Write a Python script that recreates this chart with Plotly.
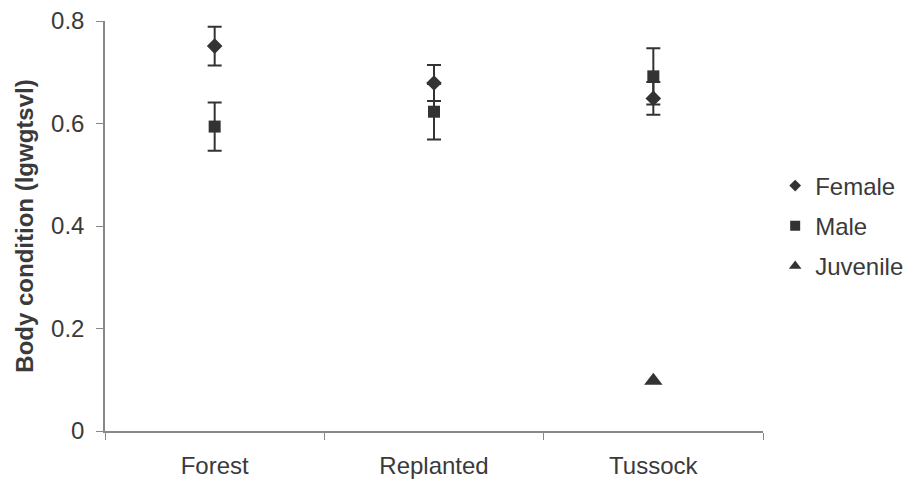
import plotly.graph_objects as go

categories = ["Forest", "Replanted", "Tussock"]
female = [0.751, 0.679, 0.649]
female_err = [0.038, 0.035, 0.032]
male = [0.594, 0.623, 0.692]
male_err = [0.047, 0.054, 0.055]
juv_cat = ["Tussock"]
juvenile = [0.098]
y_ticks = [0, 0.2, 0.4, 0.6, 0.8]
y_ticktext = ["0", "0.2", "0.4", "0.6", "0.8"]
series_names = ["Female", "Male", "Juvenile"]

mark = "#333333"
txt = "#3a3a3a"
font = "Liberation Sans, Arial, sans-serif"

fig = go.Figure()
fig.add_trace(go.Scatter(
    x=categories, y=female, mode="markers", name=series_names[0], showlegend=False,
    marker=dict(symbol="diamond", size=12, color=mark),
    error_y=dict(type="data", array=female_err, visible=True, color=mark, thickness=2, width=7)))
fig.add_trace(go.Scatter(
    x=categories, y=male, mode="markers", name=series_names[1], showlegend=False,
    marker=dict(symbol="square", size=12, color=mark),
    error_y=dict(type="data", array=male_err, visible=True, color=mark, thickness=2, width=7)))
fig.add_trace(go.Scatter(
    x=juv_cat, y=juvenile, mode="markers", name=series_names[2], showlegend=False,
    marker=dict(symbol="triangle-up", size=16, color=mark)))

# legend entries (smaller symbols, as in the reference legend)
for nm, sym, sz, grp in zip(series_names, ["diamond", "square", "triangle-up"], [9, 10, 11], ["f", "m", "j"]):
    fig.add_trace(go.Scatter(x=[None], y=[None], mode="markers", name=nm, legendgroup=grp,
                             marker=dict(symbol=sym, size=sz, color=mark), showlegend=True))

fig.update_layout(
    width=906, height=484,
    margin=dict(l=105, r=143, t=21, b=53, autoexpand=False),
    paper_bgcolor="white", plot_bgcolor="white",
    font=dict(family=font, size=24, color=txt),
    showlegend=True,
    legend=dict(x=1.0185, y=0.5, xanchor="left", yanchor="middle",
                font=dict(size=24, color=txt),
                tracegroupgap=6, traceorder="grouped", itemwidth=30,
                bgcolor="rgba(0,0,0,0)"),
)
fig.update_xaxes(
    type="category", categoryorder="array", categoryarray=categories,
    range=[-0.5, 2.5], tickson="boundaries", ticks="outside", ticklen=7,
    tickcolor="#888888", showline=True, linecolor="#888888", linewidth=1.5,
    showgrid=False, zeroline=False, tickfont=dict(size=24, color=txt),
    ticklabelstandoff=12, automargin=False)
fig.update_yaxes(
    range=[0, 0.8], tickvals=y_ticks, ticktext=y_ticktext,
    ticks="outside", ticklen=7, tickcolor="#888888",
    showline=True, linecolor="#888888", linewidth=1.5,
    showgrid=False, zeroline=False, tickfont=dict(size=24, color=txt),
    ticklabelstandoff=7, automargin=False,
    title=dict(text="<b>Body condition (lgwgtsvl)</b>", font=dict(size=24, color=txt), standoff=11))

fig.write_html("out.html")
